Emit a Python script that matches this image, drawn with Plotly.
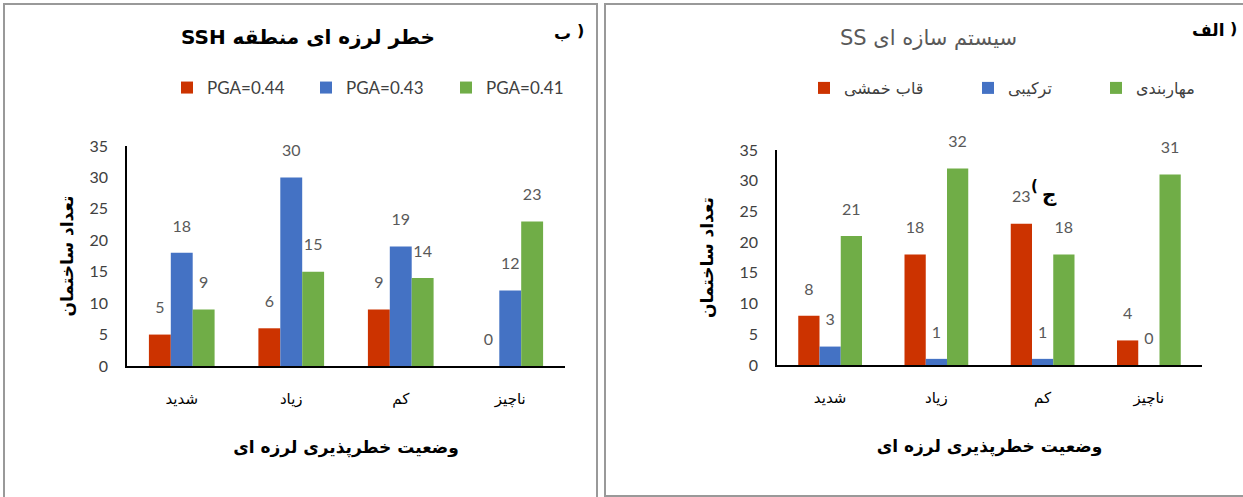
import plotly.graph_objects as go

# ---------------- data ----------------
categories = ["شدید", "زیاد", "کم", "ناچیز"]

ssh_names = ["PGA=0.44", "PGA=0.43", "PGA=0.41"]
ssh_pga044 = [5, 6, 9, 0]
ssh_pga043 = [18, 30, 19, 12]
ssh_pga041 = [9, 15, 14, 23]

ss_names = ["قاب خمشی", "ترکیبی", "مهاربندی"]
ss_moment = [8, 18, 23, 4]
ss_combined = [3, 1, 1, 0]
ss_braced = [21, 32, 18, 31]

y_ticks = [0, 5, 10, 15, 20, 25, 30, 35]

colors = ["#CC3300", "#4472C4", "#70AD47"]

# ---------------- layout helpers ----------------
W, H = 1243, 497


def px(x):
    return x / W


def py(y):
    return 1 - y / H


LAT = "Lato, 'DejaVu Sans', sans-serif"
FA = "'DejaVu Sans', sans-serif"
TICK_COLOR = "#404040"
LABEL_COLOR = "#595959"
RLE, PDF = "\u202b", "\u202c"

fig = go.Figure()

panels = [
    dict(xa="x", ya="y", names=ssh_names, series=[ssh_pga044, ssh_pga043, ssh_pga041],
         legends=["legend", "legend2", "legend3"]),
    dict(xa="x2", ya="y2", names=ss_names, series=[ss_moment, ss_combined, ss_braced],
         legends=["legend4", "legend5", "legend6"]),
]

for p in panels:
    for i, (name, vals) in enumerate(zip(p["names"], p["series"])):
        fig.add_trace(go.Bar(
            x=categories, y=vals, name=name, xaxis=p["xa"], yaxis=p["ya"],
            marker=dict(color=colors[i], line=dict(width=0)),
            offsetgroup=str(i), legend=p["legends"][i], showlegend=True,
            hoverinfo="x+y+name",
        ))
    for i, (name, vals) in enumerate(zip(p["names"], p["series"])):
        fig.add_trace(go.Scatter(
            x=categories, y=vals, xaxis=p["xa"], yaxis=p["ya"],
            mode="markers+text", text=[str(v) for v in vals],
            textposition="top center", cliponaxis=False,
            textfont=dict(family=LAT, size=16, color=LABEL_COLOR),
            marker=dict(size=26, color="rgba(0,0,0,0)"),
            offsetgroup=str(i), showlegend=False, hoverinfo="skip",
        ))


def x_axis(domain, anchor):
    return dict(
        type="category", categoryorder="array", categoryarray=categories,
        showline=True, linecolor="black", linewidth=1.5, showgrid=False,
        ticks="", tickfont=dict(family=FA, size=15, color="black"),
        ticklabelstandoff=18, zeroline=False, domain=domain, anchor=anchor,
        title=dict(text="<b>وضعیت خطرپذیری لرزه ای</b>",
                   font=dict(family=FA, size=17, color="black"), standoff=34),
    )


def y_axis(domain, anchor, standoff):
    return dict(
        range=[0, 35], tickvals=y_ticks, showline=True, linecolor="black",
        linewidth=1.5, showgrid=False, zeroline=False, ticks="",
        tickfont=dict(family=LAT, size=16, color=TICK_COLOR), ticklabelstandoff=14,
        domain=domain, anchor=anchor,
        title=dict(text="<b>تعداد ساختمان</b>",
                   font=dict(family=FA, size=17, color="black"), standoff=standoff),
    )


legend_font_lat = dict(family=LAT, size=17, color=TICK_COLOR)
legend_font_fa = dict(family=FA, size=16, color=TICK_COLOR)

leg_pos = {
    "legend": (182, 88, legend_font_lat),
    "legend2": (321, 88, legend_font_lat),
    "legend3": (461, 88, legend_font_lat),
    "legend4": (819, 88, legend_font_fa),
    "legend5": (983, 88, legend_font_fa),
    "legend6": (1111, 88, legend_font_fa),
}
legend_layout = {}
for k, (lx, ly, f) in leg_pos.items():
    legend_layout[k] = dict(
        orientation="h", xanchor="left", yanchor="middle",
        bgcolor="rgba(0,0,0,0)", itemwidth=30, font=f,
        itemclick=False, itemdoubleclick=False,
        x=px(lx - 15), y=py(ly),
    )

shapes = [
    dict(type="rect", xref="paper", yref="paper", x0=px(4), x1=px(597), y0=-0.05, y1=py(4),
         line=dict(color="#999999", width=2), layer="below"),
    dict(type="rect", xref="paper", yref="paper", x0=px(605), x1=1.05, y0=py(496), y1=py(4),
         line=dict(color="#999999", width=2), layer="below"),
]


def note(text, x, y, size, color="black", anchor="center"):
    return dict(text=text, x=px(x), y=py(y), xref="paper", yref="paper", showarrow=False,
                font=dict(family=FA, size=size, color=color), xanchor=anchor, yanchor="middle")


annotations = [
    note("<b>" + RLE + "خطر لرزه ای منطقه SSH" + PDF + "</b>", 308, 37, 20),
    note(RLE + "سیستم سازه ای SS" + PDF, 928, 38, 21, color="#595959"),
    # panel letters: letter and parenthesis set side by side
    note("<b>ب</b>", 573, 33, 17, anchor="right"),
    note("<b>)</b>", 575, 31, 16, anchor="left"),
    note("<b>الف</b>", 1226, 30, 17, anchor="right"),
    note("<b>)</b>", 1228, 28, 16, anchor="left"),
    note("<b>(</b>", 1040, 186, 15, anchor="right"),
    note("<b>ج</b>", 1040, 194, 20, anchor="left"),
]

fig.update_layout(
    width=W, height=H, margin=dict(l=0, r=0, t=0, b=0, autoexpand=False),
    paper_bgcolor="white", plot_bgcolor="white",
    barmode="group", bargap=0.4, bargroupgap=0,
    scattermode="group", scattergap=0.4,
    xaxis=x_axis([px(127), px(565)], "y"),
    yaxis=y_axis([py(366), py(146)], "x", 12),
    xaxis2=x_axis([px(777), px(1202)], "y2"),
    yaxis2=y_axis([py(365), py(150)], "x2", 22),
    shapes=shapes, annotations=annotations,
    **legend_layout,
)

fig.write_html(
    "out.html",
    config={"displayModeBar": False},
    post_script="document.body.style.margin='0';document.body.style.overflow='hidden';",
)
